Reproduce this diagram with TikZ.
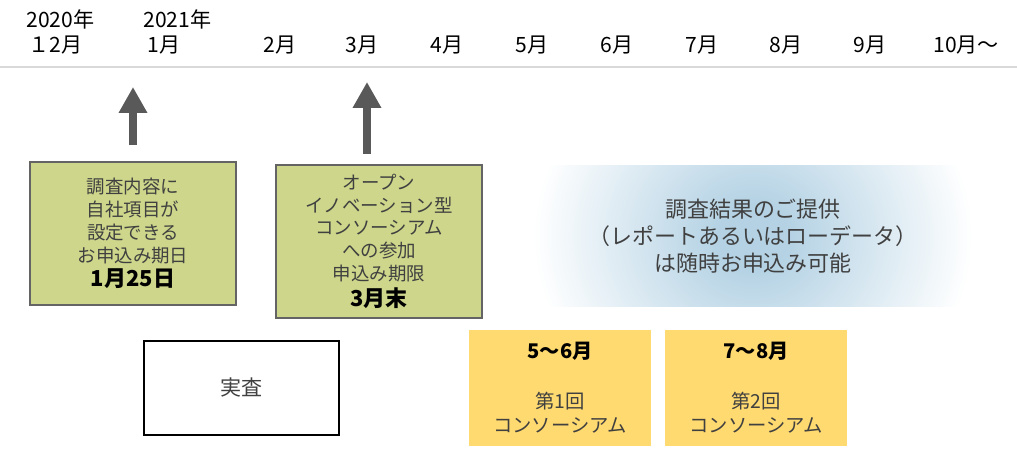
\documentclass[tikz,border=0pt]{standalone}
\usepackage{fontspec}
\setmainfont{Noto Sans CJK JP}
\usepackage{xcolor}
\usetikzlibrary{arrows.meta,positioning}
\definecolor{boxolive}{RGB}{205,214,138}
\definecolor{boxedge}{RGB}{100,100,100}
\definecolor{consyellow}{RGB}{255,218,112}
\definecolor{glowblue}{RGB}{180,210,228}
\definecolor{arrgray}{RGB}{89,89,89}
\definecolor{txtgray}{RGB}{64,64,64}
\definecolor{rulegray}{RGB}{217,217,217}
\pgfdeclareradialshading{glowshade}{\pgfpoint{0bp}{0bp}}{color(0bp)=(glowblue); color(4bp)=(glowblue); color(25bp)=(white); color(50bp)=(white)}

\begin{document}
\begin{tikzpicture}[x=0.02cm, y=-0.02cm,
    every node/.style={inner sep=0pt, font=\fontsize{10.5}{13}\selectfont},
    month/.style={anchor=west, font=\fontsize{12}{14}\selectfont},
    datebox/.style={rectangle, draw=boxedge, line width=1.1pt, fill=boxolive,
                    minimum width=4.12cm, align=center, text=txtgray},
    consbox/.style={rectangle, fill=consyellow, minimum width=3.63cm,
                    minimum height=2.32cm, align=center, text=txtgray,
                    font=\fontsize{11}{14}\selectfont},
    glowbox/.style={rectangle, minimum width=8.8cm, minimum height=2.84cm,
                    align=center, text=txtgray, font=\fontsize{12.5}{15.5}\selectfont,
                    path picture={\shade[shading=glowshade]
                      ([xshift=-4.4cm,yshift=-4cm]path picture bounding box.center)
                      rectangle ([xshift=4.4cm,yshift=4cm]path picture bounding box.center);}},
    uparr/.style={-{Triangle[width=0.54cm,length=0.52cm]}, line width=0.17cm, arrgray}]

    \useasboundingbox (0,0) rectangle (1017,450);

    %% Timeline header
    \node[month] (y2020) at (26,19) {2020年};
    \node[month] (y2021) at (143,19) {2021年};
    \foreach \mx/\mlabel [count=\i] in {28/１2月, 147/1月, 263/2月, 345/3月, 430/4月,
        515/5月, 600/6月, 685/7月, 769/8月, 853/9月, 933/10月～}
      \node[month] (mon\i) at (\mx,45) {\mlabel};
    \draw[rulegray, line width=1.1pt] (0,67) -- (1017,67);

    %% Deadlines
    \node[datebox, minimum height=2.86cm] (entry) at (133,233.5)
      {調査内容に\\自社項目が\\設定できる\\お申込み期日\\[1pt]
       {\color{black}\fontsize{12.5}{15}\selectfont\bfseries 1月25日}};
    \node[datebox, minimum height=3.06cm] (consort) at (379,241.5)
      {オープン\\イノベーション型\\コンソーシアム\\への参加\\申込み期限\\[2pt]
       {\color{black}\fontsize{12.5}{15}\selectfont\bfseries 3月末}};

    %% Results on demand
    \node[glowbox] (results) at (753,236)
      {調査結果のご提供\\（レポートあるいはローデータ）\\は随時お申込み可能};

    %% Survey and consortium meetings
    \node[rectangle, draw=black, line width=1.4pt, minimum width=3.9cm,
          minimum height=1.88cm, text=txtgray, font=\fontsize{12}{14}\selectfont]
          (survey) at (241.5,388) {実査};
    \node[consbox] (meet1) at (560,388)
      {{\color{black}\fontsize{11.5}{14}\selectfont\bfseries 5～6月}\\[14pt]第1回\\コンソーシアム};
    \node[consbox, right=0.28cm of meet1] (meet2)
      {{\color{black}\fontsize{11.5}{14}\selectfont\bfseries 7～8月}\\[14pt]第2回\\コンソーシアム};

    %% Arrows
    \coordinate (tip1) at (133,87);
    \coordinate (tip2) at (367,82);
    \draw[uparr, shorten <=0.32cm] (entry.north) -- (tip1);
    \draw[uparr, shorten <=0.2cm] (consort.north -| tip2) -- (tip2);
\end{tikzpicture}
\end{document}
